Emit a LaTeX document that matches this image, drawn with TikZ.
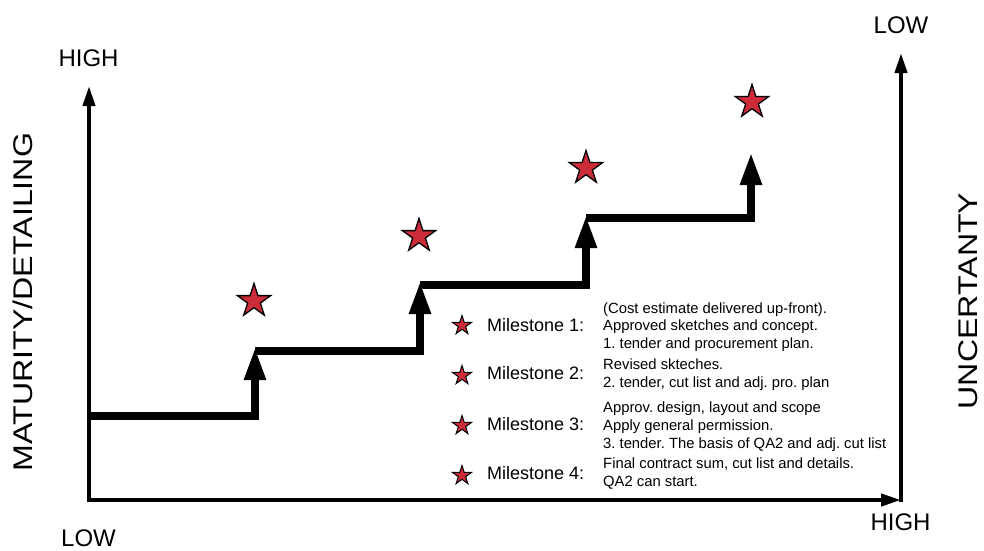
\documentclass[tikz,border=0pt]{standalone}
\usepackage{fontspec}
\setmainfont{Liberation Sans}
\usetikzlibrary{arrows.meta,shapes.geometric}
\definecolor{starred}{RGB}{204,44,56}
\frenchspacing
\tikzset{
  axis/.style={line width=4pt,-{Triangle[length=20pt,width=12pt]}},
  stair/.style={line width=8pt},
  stairup/.style={line width=8pt,-{Triangle[length=33pt,width=20pt]}},
  bigstar/.style={star,star points=5,star point ratio=2.618,draw=black,line width=1.3pt,fill=starred,inner sep=0pt,minimum size=35pt},
  smallstar/.style={star,star points=5,star point ratio=2.618,draw=black,line width=1pt,fill=starred,inner sep=0pt,minimum size=20pt},
  axlabel/.style={font=\fontsize{24}{28}\selectfont,inner sep=0pt},
  sidelabel/.style={font=\fontsize{27}{30}\selectfont,inner sep=0pt,rotate=90},
  mslabel/.style={font=\fontsize{18}{21}\selectfont,anchor=west,inner sep=0pt},
  msdesc/.style={font=\fontsize{14.8}{17.8}\selectfont,anchor=west,align=left,inner sep=0pt}
}
\begin{document}
\begin{tikzpicture}[x=1pt,y=-1pt]
\useasboundingbox (0,0) rectangle (984,550);

% axes
\coordinate (origin) at (89,500);
\coordinate (ytop) at (89,86);
\coordinate (xend) at (901,500);
\coordinate (rbot) at (901,502);
\coordinate (rtop) at (901,53);
\draw[line width=4pt] (89,502) -- (89,470);
\draw[axis] (origin) -- (ytop);
\draw[axis] (origin) -- (xend);
\draw[axis] (rbot) -- (rtop);

% axis end labels
\node[axlabel] (highL) at (88.5,58) {HIGH};
\node[axlabel] (lowL) at (88.5,538) {LOW};
\node[axlabel] (lowR) at (901,25) {LOW};
\node[axlabel] (highR) at (900.5,522) {HIGH};

% side titles
\node[sidelabel] (maturity) at (23,302) {\scalebox{1.19}[1]{MATURITY/DETAILING}};
\node[sidelabel] (uncert) at (968,301) {\scalebox{1.19}[1]{UNCERTANTY}};

% staircase corners
\coordinate (s0) at (87,416);
\coordinate (c1) at (255,416);
\coordinate (t1) at (255,347);
\coordinate (b2) at (255,351);
\coordinate (c2) at (420,351);
\coordinate (t2) at (420,281);
\coordinate (b3) at (420,285);
\coordinate (c3) at (586,285);
\coordinate (t3) at (586,215);
\coordinate (b4) at (586,218);
\coordinate (c4) at (751,218);
\coordinate (t4) at (751,152);

\draw[stair] (s0) -- ([xshift=4pt]c1);
\draw[stairup] ([yshift=4pt]c1) -- (t1);
\draw[stair] (b2) -- ([xshift=4pt]c2);
\draw[stairup] ([yshift=4pt]c2) -- (t2);
\draw[stair] (b3) -- ([xshift=4pt]c3);
\draw[stairup] ([yshift=4pt]c3) -- (t3);
\draw[stair] (b4) -- ([xshift=4pt]c4);
\draw[stairup] ([yshift=4pt]c4) -- (t4);

% milestone stars on the staircase
\node[bigstar] (m1) at (254,301) {};
\node[bigstar] (m2) at (419,236) {};
\node[bigstar] (m3) at (586,168) {};
\node[bigstar] (m4) at (752,102) {};

% legend
\node[smallstar] (k1) at (462,325.5) {};
\node[smallstar] (k2) at (462,375.5) {};
\node[smallstar] (k3) at (462,425.5) {};
\node[smallstar] (k4) at (462,475.5) {};
\node[mslabel] (l1) at (487,325) {Milestone 1:};
\node[mslabel] (l2) at (487,373) {Milestone 2:};
\node[mslabel] (l3) at (487,424) {Milestone 3:};
\node[mslabel] (l4) at (487,473) {Milestone 4:};
\node[msdesc] (d1) at (603,327) {(Cost estimate delivered up-front).\\Approved sketches and concept.\\1. tender and procurement plan.};
\node[msdesc] (d2) at (603,374.5) {Revised skteches.\\2. tender, cut list and adj. pro. plan};
\node[msdesc] (d3) at (603,426.5) {Approv. design, layout and scope\\Apply general permission.\\3. tender. The basis of QA2 and adj. cut list};
\node[msdesc] (d4) at (603,473.5) {Final contract sum, cut list and details.\\QA2 can start.};
\end{tikzpicture}
\end{document}
